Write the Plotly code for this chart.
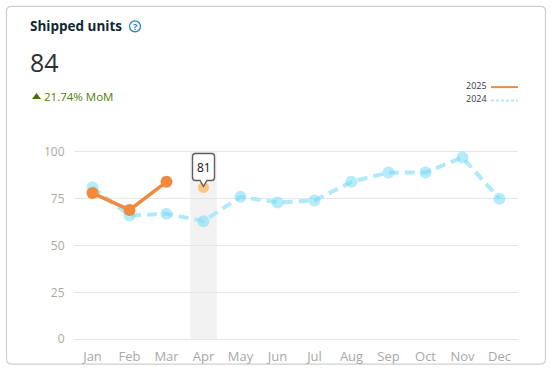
import plotly.graph_objects as go

months = ["Jan", "Feb", "Mar", "Apr", "May", "Jun", "Jul", "Aug", "Sep", "Oct", "Nov", "Dec"]
units_2024 = [81, 66, 67, 63, 76, 73, 74, 84, 89, 89, 97, 75]
units_2025 = [78, 69, 84]
highlight_month = ["Apr"]
highlight_value = [81]
y_ticks = [0, 25, 50, 75, 100]

W, H = 554, 371
L, R, T, B = 74, 518, 149.62, 341.38
FONT = "Open Sans"
ORANGE = "#f28a3e"
BLUE_LINE = "#b0e9f9"
BLUE_MARK = "rgba(122,220,245,0.55)"


def px(x):
    return (x - L) / (R - L)


def py(y):
    return (B - y) / (B - T)


def note(x, y, text, size, color, anchor="left", weight=None):
    return dict(xref="paper", yref="paper", x=px(x), y=py(y), text=text, showarrow=False,
                xanchor=anchor, yanchor="middle", align=anchor,
                font=dict(family=FONT, size=size, color=color, weight=weight))


def rounded(x0, y0, x1, y1, r):
    a, b, c, d = px(x0), py(y0), px(x1), py(y1)
    rx, ry = r / (R - L), r / (B - T)
    return (f"M{a+rx},{b} L{c-rx},{b} Q{c},{b} {c},{b-ry} L{c},{d+ry} Q{c},{d} {c-rx},{d} "
            f"L{a+rx},{d} Q{a},{d} {a},{d+ry} L{a},{b-ry} Q{a},{b} {a+rx},{b} Z")


fig = go.Figure()
fig.add_trace(go.Scatter(x=months, y=units_2024, mode="lines", name="2024", cliponaxis=False,
                         line=dict(color=BLUE_LINE, width=4, dash="10px,6px"), showlegend=False))
fig.add_trace(go.Scatter(x=months, y=units_2024, mode="markers", name="2024", cliponaxis=False,
                         marker=dict(color=BLUE_MARK, size=12), showlegend=False))
fig.add_trace(go.Scatter(x=months[:3], y=units_2025, mode="lines+markers", name="2025", cliponaxis=False,
                         line=dict(color=ORANGE, width=3.5), marker=dict(color=ORANGE, size=12), showlegend=False))
fig.add_trace(go.Scatter(x=highlight_month, y=highlight_value, mode="markers", name="2025 selected", cliponaxis=False,
                         marker=dict(color="#fcc47f", size=11), showlegend=False))

shapes = [
    dict(type="path", xref="paper", yref="paper", path=rounded(6.5, 5.5, 545.5, 364.5, 5),
         line=dict(color="#cfcfcf", width=1.2), fillcolor="white", layer="below"),
    dict(type="rect", xref="x", yref="y", x0=2.64, x1=3.36, y0=0, y1=100,
         line=dict(width=0), fillcolor="#f2f2f2", layer="below"),
    # legend samples
    dict(type="line", xref="paper", yref="paper", x0=px(491), x1=px(518), y0=py(86.5), y1=py(86.5),
         line=dict(color=ORANGE, width=2)),
    dict(type="line", xref="paper", yref="paper", x0=px(491), x1=px(518), y0=py(100), y1=py(100),
         line=dict(color=BLUE_LINE, width=2, dash="3px,2px")),
    # help icon
    dict(type="circle", xref="paper", yref="paper", x0=px(129.5), x1=px(140.5), y0=py(20), y1=py(31),
         line=dict(color="#1f7fd1", width=1.2), fillcolor="white"),
    # up triangle next to the change figure
    dict(type="path", xref="paper", yref="paper",
         path=f"M{px(32)},{py(98.5)} L{px(41)},{py(98.5)} L{px(36.5)},{py(92.5)} Z",
         line=dict(width=0), fillcolor="#4a7300"),
    # tooltip callout
    dict(type="path", xanchor=3, yanchor=81, xref="x", yref="y", xsizemode="pixel", ysizemode="pixel",
         path="M0,1 L-3.5,7 L-8,7 Q-11,7 -11,10 L-11,31 Q-11,34 -8,34 L8,34 Q11,34 11,31 L11,10 Q11,7 8,7 L3.5,7 Z",
         line=dict(color="#5f5f5f", width=1.4), fillcolor="white"),
]

annotations = [
    note(28, 25.5, "Shipped units", 13.5, "#0f2733", weight=700),
    note(135, 25.5, "?", 9, "#1f7fd1", anchor="center", weight=700),
    note(28, 61.5, "84", 25, "#2b2f33"),
    note(42, 95.5, "21.74% MoM", 11.5, "#4f7f0a"),
    note(489, 84.5, "2025", 9, "#333d47", anchor="right"),
    note(489, 97.5, "2024", 9, "#333d47", anchor="right"),
    dict(x=3, y=81, xref="x", yref="y", yshift=20, text="81", showarrow=False,
         font=dict(family=FONT, size=12, color="#111111")),
]

fig.update_layout(
    width=W, height=H, autosize=False,
    margin=dict(l=L, r=W - R, t=T, b=H - B, autoexpand=False),
    paper_bgcolor="white", plot_bgcolor="rgba(0,0,0,0)",
    shapes=shapes, annotations=annotations, showlegend=False, hovermode=False,
    xaxis=dict(type="category", categoryorder="array", categoryarray=months, range=[-0.5, 11.5],
               automargin=False,
               showgrid=False, zeroline=False, showline=False, ticks="outside", ticklen=3,
               tickcolor="rgba(0,0,0,0)",
               tickfont=dict(family=FONT, size=13, color="#a8a8a8")),
    yaxis=dict(range=[-1, 101], tickvals=y_ticks, showgrid=True, gridcolor="#e6e6e6", gridwidth=1,
               automargin=False,
               zeroline=False, showline=False, ticks="outside", ticklen=6, tickcolor="rgba(0,0,0,0)",
               tickfont=dict(family=FONT, size=12, color="#b0a8a0")),
)
fig.write_html("out.html", config=dict(displayModeBar=False),
               post_script="document.body.style.margin='0';document.documentElement.style.overflow='hidden';")
